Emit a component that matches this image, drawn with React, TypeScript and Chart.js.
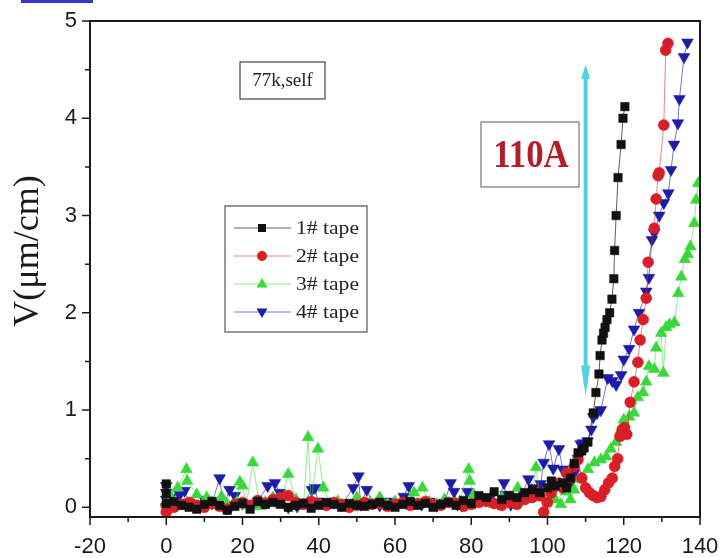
import React, { useEffect, useRef } from "react";
import { Chart, registerables } from "chart.js";

Chart.register(...registerables);

// ---------- data ----------
const xTicks = [-20, 0, 20, 40, 60, 80, 100, 120, 140];
const xMinorTicks = [-10, 10, 30, 50, 70, 90, 110, 130];
const yTicks = [0, 1, 2, 3, 4, 5];
const yMinorTicks = [0.5, 1.5, 2.5, 3.5, 4.5];
const seriesNames = ["1# tape", "2# tape", "3# tape", "4# tape"];

const tape1: [number, number][] = [
  [0, 0.24], [0, 0.14], [0, 0.04], [2, 0.06], [4, 0.02], [6, 0.0], [8, -0.02], [10, 0.03], [12, 0.06], [14, 0.02],
  [16, -0.03], [18, 0.01], [20, 0.04], [22, -0.02], [24, 0.06], [26, 0.03], [28, 0.05], [30, 0.03], [32, 0.0], [34, 0.02],
  [36, 0.04], [38, -0.01], [40, 0.02], [42, 0.05], [44, 0.03], [46, 0.0], [48, 0.04], [50, 0.02], [52, 0.01], [54, 0.03],
  [56, 0.05], [58, 0.02], [60, 0.0], [62, 0.03], [64, 0.06], [66, 0.02], [68, 0.04], [70, 0.0], [72, 0.03], [74, 0.05],
  [76, 0.02], [78, 0.07], [80, 0.04], [82, 0.12], [84, 0.1], [86, 0.16], [88, 0.08], [90, 0.12], [92, 0.1], [94, 0.15],
  [96, 0.18], [98, 0.15], [100, 0.2], [101, 0.27], [102, 0.22], [104, 0.25], [105, 0.2], [106, 0.3], [107, 0.45], [108, 0.56],
  [109, 0.58], [109.6, 0.61], [110.6, 0.67], [112, 0.97], [112.7, 1.18], [113.5, 1.37], [113.8, 1.56], [114.3, 1.72], [114.7, 1.79], [115.1, 1.85],
  [115.6, 1.93], [116.3, 2.0], [116.9, 2.14], [117.4, 2.35], [117.6, 2.64], [118, 3.0], [118.5, 3.39], [119.3, 3.73], [119.8, 4.0], [120.3, 4.12],
];

const tape2: [number, number][] = [
  [0, -0.05], [0, 0.02], [2, 0.0], [4, 0.03], [6, 0.05], [8, 0.02], [10, 0.0], [12, 0.04], [14, 0.01], [16, -0.02],
  [18, 0.03], [20, 0.05], [22, 0.02], [24, 0.07], [26, 0.04], [28, 0.08], [30, 0.1], [32, 0.12], [34, 0.05], [36, 0.03],
  [38, 0.06], [40, 0.04], [42, 0.02], [44, 0.05], [46, 0.03], [48, 0.0], [50, 0.02], [52, 0.05], [54, 0.03], [56, 0.04],
  [58, 0.01], [60, 0.03], [62, 0.05], [64, 0.02], [66, 0.04], [68, 0.06], [70, 0.03], [72, 0.02], [74, 0.05], [76, 0.04],
  [78, 0.01], [80, 0.03], [82, 0.05], [84, 0.06], [86, 0.04], [88, 0.02], [90, 0.05], [92, 0.03], [94, 0.08], [96, 0.1],
  [97, 0.16], [98, 0.12], [99, -0.05], [100, 0.05], [101, 0.15], [102, 0.22], [103, 0.25], [104, 0.2], [105, 0.35], [106, 0.3],
  [107, 0.42], [108, 0.49], [109, 0.3], [110, 0.2], [111, 0.15], [112, 0.12], [113, 0.1], [114, 0.11], [115, 0.18], [116, 0.25],
  [117, 0.3], [117.6, 0.42], [118.4, 0.5], [119, 0.73], [119.6, 0.8], [120.2, 0.82], [120.8, 0.75], [121.7, 1.08], [122.7, 1.29], [123.7, 1.49],
  [124.3, 1.72], [125.1, 1.93], [125.9, 2.15], [126.4, 2.52], [128, 2.87], [128.5, 3.17], [129, 3.41], [129.3, 3.44], [130.5, 3.93], [131, 4.7],
  [131.6, 4.77],
];

const tape3: [number, number][] = [
  [0, 0.05], [1, 0.12], [3, 0.2], [5.3, 0.39], [5.5, 0.27], [8, 0.13], [10.6, 0.1], [12, 0.05], [14.5, 0.11], [16, 0.03],
  [18.5, 0.05], [19.3, 0.26], [20, 0.22], [21, 0.02], [22.7, 0.46], [24.5, 0.01], [26, 0.05], [28, 0.1], [30, 0.03], [32, 0.34],
  [34, 0.08], [36, 0.02], [37.2, 0.72], [38, 0.05], [39.8, 0.6], [41.2, 0.2], [43, 0.03], [45, 0.06], [47, 0.02], [50, 0.1],
  [53.5, 0.05], [56, 0.1], [58, 0.03], [60, 0.06], [62, 0.02], [65, 0.15], [67.2, 0.2], [69, 0.05], [71, 0.03], [73, 0.08],
  [75, 0.04], [77, 0.06], [79.3, 0.39], [79.6, 0.27], [80.6, 0.13], [82, 0.05], [84.3, 0.06], [86, 0.03], [88, 0.1], [90, 0.06],
  [92.2, 0.2], [94, 0.08], [96, 0.15], [97, 0.41], [98, 0.1], [100, 0.11], [102, 0.08], [103.5, 0.03], [104.8, 0.16], [106, 0.08],
  [107, 0.18], [108.8, 0.29], [110.6, 0.39], [112.3, 0.46], [114, 0.49], [115.4, 0.52], [116.6, 0.6], [118, 0.67], [119.3, 0.8], [120, 0.9],
  [121.4, 0.93], [122.7, 0.97], [123.7, 1.13], [125.1, 1.18], [125.9, 1.29], [126.6, 1.45], [128, 1.42], [128.5, 1.64], [129.8, 1.79], [130.4, 1.38],
  [131.1, 1.85], [132, 1.88], [133.3, 1.9], [134.3, 2.2], [135.1, 2.37], [136, 2.55], [136.8, 2.6], [137.5, 2.68], [138.5, 2.92], [139, 3.16],
  [139.5, 3.33],
];

const tape4: [number, number][] = [
  [0, 0.0], [0, 0.08], [0, 0.15], [0, 0.22], [1, 0.1], [3.5, 0.13], [4.8, 0.17], [6, 0.05], [8, 0.02], [10, 0.08],
  [12, 0.04], [14, 0.3], [15, 0.01], [16.6, 0.18], [18, 0.12], [20, 0.04], [22, 0.02], [24, 0.06], [26.6, 0.22], [28.5, 0.25],
  [29.8, 0.15], [32, 0.0], [34.3, 0.01], [36, 0.05], [38.2, 0.18], [39, 0.2], [39.8, 0.06], [42, 0.03], [44, 0.05], [46, 0.02],
  [49, 0.2], [50.4, 0.32], [51, 0.03], [52.6, 0.18], [54, 0.05], [56, 0.02], [58, 0.06], [60, 0.04], [62.3, 0.11], [63.6, 0.22],
  [65, 0.05], [67, 0.03], [69, 0.06], [71, 0.02], [73, 0.05], [74.6, 0.25], [75.5, 0.16], [76.4, 0.03], [77.5, 0.02], [79, 0.16],
  [81, 0.05], [83, 0.08], [85, 0.1], [87, 0.04], [88.6, 0.25], [89, 0.13], [90.4, 0.03], [92.2, 0.1], [93.5, 0.15], [95, 0.29],
  [96.5, 0.2], [98.2, 0.24], [99, 0.46], [100.4, 0.65], [101.5, 0.4], [103, 0.6], [104, 0.39], [105, 0.2], [106, 0.25], [107, 0.35],
  [108, 0.5], [108.7, 0.65], [109.3, 0.66], [110.5, 0.68], [111.5, 0.8], [112, 0.93], [113, 0.97], [114, 1.0], [115.8, 1.33], [117, 1.3],
  [118, 1.26], [119.3, 1.36], [120, 1.52], [121.4, 1.63], [122.7, 1.83], [124, 2.0], [125.9, 2.22], [126.6, 2.36], [127.4, 2.75], [128, 2.82],
  [129.3, 3.0], [130.5, 3.13], [131.7, 3.23], [132.4, 3.47], [133.2, 3.73], [134.2, 3.95], [134.6, 4.2], [135.8, 4.63], [136.7, 4.78],
];

const allSeries = [tape1, tape2, tape3, tape4];

// annotations
const conditionLabel = "77k,self";
const currentLabel = "110A";
const arrowX = 110;
const arrowTop = 4.55;
const arrowBottom = 1.15;
const yTitle = "V(μm/cm)";

// ---------- styles ----------
const markerColors = ["#111111", "#d81f27", "#3bd83b", "#1c1ca8"];
const lineColors = ["rgba(40,40,40,0.75)", "rgba(216,31,39,0.55)", "rgba(59,216,59,0.55)", "rgba(28,28,168,0.6)"];
const pointStyles = ["rect", "circle", "triangle", "triangle"];
const pointRotations = [0, 0, 0, 180];
const pointRadii = [6, 5.5, 6.8, 6.8];

const SERIF = "'Liberation Serif', 'Times New Roman', serif";
const SANS = "'Liberation Sans', Arial, sans-serif";

function drawMarker(ctx: CanvasRenderingContext2D, i: number, x: number, y: number) {
  ctx.fillStyle = markerColors[i];
  ctx.beginPath();
  if (i === 0) {
    ctx.rect(x - 4, y - 4, 8, 8);
  } else if (i === 1) {
    ctx.arc(x, y, 5, 0, Math.PI * 2);
  } else if (i === 2) {
    ctx.moveTo(x, y - 6);
    ctx.lineTo(x + 5.5, y + 3.5);
    ctx.lineTo(x - 5.5, y + 3.5);
    ctx.closePath();
  } else {
    ctx.moveTo(x, y + 6);
    ctx.lineTo(x + 5.5, y - 3.5);
    ctx.lineTo(x - 5.5, y - 3.5);
    ctx.closePath();
  }
  ctx.fill();
}

const decorPlugin = {
  id: "decor",
  afterDraw(chart: any) {
    const ctx: CanvasRenderingContext2D = chart.ctx;
    const { left, right, top, bottom } = chart.chartArea;
    const xs = chart.scales.x;
    const ys = chart.scales.y;
    ctx.save();

    // small blue strip at top-left of the picture
    ctx.fillStyle = "#3434cf";
    ctx.fillRect(21, 0, 72, 3);

    // frame
    ctx.strokeStyle = "#1a1a1a";
    ctx.lineWidth = 2;
    ctx.strokeRect(left, top, right - left, bottom - top);

    // ticks
    ctx.lineWidth = 1.5;
    ctx.beginPath();
    yTicks.forEach((v) => {
      const py = ys.getPixelForValue(v);
      ctx.moveTo(left - 8, py);
      ctx.lineTo(left, py);
    });
    yMinorTicks.forEach((v) => {
      const py = ys.getPixelForValue(v);
      ctx.moveTo(left - 5, py);
      ctx.lineTo(left, py);
    });
    xTicks.forEach((v) => {
      const px = xs.getPixelForValue(v);
      ctx.moveTo(px, bottom);
      ctx.lineTo(px, bottom + 8);
    });
    xMinorTicks.forEach((v) => {
      const px = xs.getPixelForValue(v);
      ctx.moveTo(px, bottom);
      ctx.lineTo(px, bottom + 5);
    });
    ctx.stroke();

    // y title
    ctx.save();
    ctx.translate(29, 251);
    ctx.rotate(-Math.PI / 2);
    ctx.fillStyle = "#1a1a1a";
    ctx.font = `36px ${SERIF}`;
    ctx.textAlign = "center";
    ctx.textBaseline = "middle";
    ctx.fillText(yTitle, 0, 0);
    ctx.restore();

    // condition box
    ctx.strokeStyle = "#444";
    ctx.lineWidth = 1.2;
    ctx.strokeRect(240, 62, 85, 37);
    ctx.fillStyle = "#222";
    ctx.font = `19px ${SERIF}`;
    ctx.textAlign = "center";
    ctx.textBaseline = "middle";
    ctx.fillText(conditionLabel, 282.5, 81);

    // current box
    ctx.strokeStyle = "#777";
    ctx.lineWidth = 1.2;
    ctx.strokeRect(481, 122, 98, 65);
    ctx.save();
    ctx.translate(531, 156);
    ctx.scale(0.85, 1);
    ctx.fillStyle = "#b51d2a";
    ctx.font = `bold 41px ${SERIF}`;
    ctx.textAlign = "center";
    ctx.textBaseline = "middle";
    ctx.fillText(currentLabel, 0, 0);
    ctx.restore();

    // double arrow
    const ax = xs.getPixelForValue(arrowX);
    const ay1 = ys.getPixelForValue(arrowTop);
    const ay2 = ys.getPixelForValue(arrowBottom);
    ctx.strokeStyle = "#4fd3df";
    ctx.fillStyle = "#4fd3df";
    ctx.lineWidth = 4;
    ctx.beginPath();
    ctx.moveTo(ax, ay1 + 10);
    ctx.lineTo(ax, ay2 - 10);
    ctx.stroke();
    ctx.beginPath();
    ctx.moveTo(ax, ay1);
    ctx.lineTo(ax + 4.5, ay1 + 14);
    ctx.lineTo(ax - 4.5, ay1 + 14);
    ctx.closePath();
    ctx.fill();
    ctx.beginPath();
    ctx.moveTo(ax, ay2);
    ctx.lineTo(ax + 4.5, ay2 - 30);
    ctx.lineTo(ax - 4.5, ay2 - 30);
    ctx.closePath();
    ctx.fill();

    // legend
    ctx.fillStyle = "#fff";
    ctx.fillRect(225, 206, 142, 126);
    ctx.strokeStyle = "#555";
    ctx.lineWidth = 1.2;
    ctx.strokeRect(225, 206, 142, 126);
    const rows = [228, 256, 284, 312];
    seriesNames.forEach((name, i) => {
      const ry = rows[i];
      ctx.strokeStyle = lineColors[i];
      ctx.lineWidth = 1;
      ctx.beginPath();
      ctx.moveTo(234, ry);
      ctx.lineTo(291, ry);
      ctx.stroke();
      drawMarker(ctx, i, 262, ry);
      ctx.save();
      ctx.translate(296, ry + 1);
      ctx.scale(1.2, 1);
      ctx.fillStyle = "#222";
      ctx.font = `18px ${SERIF}`;
      ctx.textAlign = "left";
      ctx.textBaseline = "middle";
      ctx.fillText(name, 0, 0);
      ctx.restore();
    });

    ctx.restore();
  },
};

function zeroPadding(s: any) {
  s.paddingLeft = 0;
  s.paddingRight = 0;
  s.paddingTop = 0;
  s.paddingBottom = 0;
}

export default function App() {
  const canvasRef = useRef<HTMLCanvasElement | null>(null);

  useEffect(() => {
    document.body.style.margin = "0";
    const canvas = canvasRef.current;
    if (!canvas) return;
    const datasets = allSeries.map((series, i) => ({
      label: seriesNames[i],
      data: series.map(([x, y]) => ({ x, y })),
      showLine: true,
      borderColor: lineColors[i],
      borderWidth: 1,
      backgroundColor: markerColors[i],
      pointBackgroundColor: markerColors[i],
      pointBorderColor: markerColors[i],
      pointBorderWidth: 0.5,
      pointStyle: pointStyles[i] as any,
      rotation: pointRotations[i],
      pointRotation: pointRotations[i],
      pointRadius: pointRadii[i],
      tension: 0,
    }));

    const chart = new Chart(canvas, {
      type: "scatter",
      data: { datasets },
      options: {
        animation: false,
        responsive: false,
        devicePixelRatio: 1,
        layout: { autoPadding: false, padding: { left: 0, top: 21, right: 23, bottom: 0 } },
        plugins: { legend: { display: false }, tooltip: { enabled: false } },
        scales: {
          x: {
            type: "linear",
            min: -20,
            max: 140,
            afterBuildTicks: (s: any) => {
              s.ticks = xTicks.map((v) => ({ value: v }));
            },
            afterFit: (s: any) => {
              s.height = 41;
              zeroPadding(s);
            },
            grid: { display: false, drawTicks: false },
            border: { display: false },
            ticks: {
              padding: 17,
              color: "#1a1a1a",
              font: { family: SANS, size: 22 },
              maxRotation: 0,
              autoSkip: false,
            },
          },
          y: {
            type: "linear",
            min: -0.1,
            max: 5,
            afterBuildTicks: (s: any) => {
              s.ticks = yTicks.map((v) => ({ value: v }));
            },
            afterFit: (s: any) => {
              s.width = 90;
              zeroPadding(s);
            },
            grid: { display: false, drawTicks: false },
            border: { display: false },
            ticks: {
              padding: 13,
              color: "#1a1a1a",
              font: { family: SANS, size: 22 },
              autoSkip: false,
            },
          },
        },
      },
      plugins: [decorPlugin],
    });
    return () => chart.destroy();
  }, []);

  return (
    <canvas
      ref={canvasRef}
      width={723}
      height={558}
      style={{ display: "block", width: 723, height: 558 }}
    />
  );
}
